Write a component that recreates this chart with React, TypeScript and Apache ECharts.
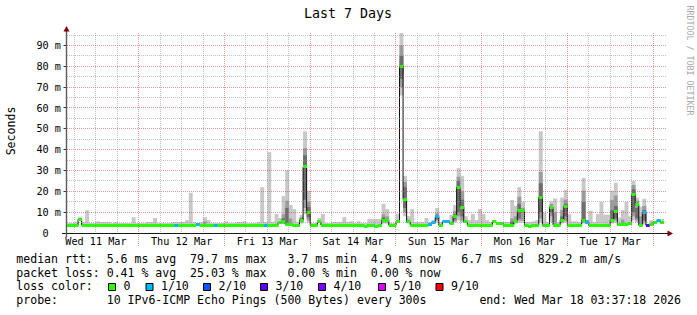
import React, { useEffect, useRef } from 'react';
import * as echarts from 'echarts';

// ---- time frame: hours since Wed 11 Mar 00:00 ----
const START_HOUR = 3 + 37 / 60 + 18 / 3600; // Wed 11 Mar 03:37:18
const END_HOUR = START_HOUR + 168; // Wed 18 Mar 03:37:18
const FIRST_BUCKET_HOUR = 4; // first hourly bucket 04:00-05:00
const Y_MAX = 96;

const dayLabels = ['Wed 11 Mar', 'Thu 12 Mar', 'Fri 13 Mar', 'Sat 14 Mar', 'Sun 15 Mar', 'Mon 16 Mar', 'Tue 17 Mar'];
const dayLabelHours = [12, 36, 60, 84, 108, 132, 156];
const minorGridHours = [6, 12, 18, 30, 36, 42, 54, 60, 66, 78, 84, 90, 102, 108, 114, 126, 132, 138, 150, 156, 162];
const majorGridHours = [24, 48, 72, 96, 120, 144, 168];
const yTickValues = [0, 10, 20, 30, 40, 50, 60, 70, 80, 90];
const yTickLabels = ['0\u00a0\u00a0', '10\u00a0m', '20\u00a0m', '30\u00a0m', '40\u00a0m', '50\u00a0m', '60\u00a0m', '70\u00a0m', '80\u00a0m', '90\u00a0m'];
const yMajorGrid = [10, 20, 30, 40, 50, 60, 70, 80, 90];
const yMinorGrid = [5, 15, 25, 35, 45, 55, 65, 75, 85, 95];

// ---- median rtt per hourly bucket (ms) ----
const medianWed11 = [3.5, 3.5, 3.7, 6.5, 3.8, 3.8, 3.8, 3.8, 3.8, 3.8, 3.8, 3.8, 3.8, 3.8, 3.8, 3.8, 3.8, 3.8, 3.8, 3.8];
const medianThu12 = [3.8, 3.8, 3.8, 3.8, 3.8, 3.8, 3.8, 3.8, 3.8, 3.8, 3.8, 3.8, 3.8, 3.8, 3.8, 3.8, 4.0, 3.8, 3.8, 3.8, 3.8, 3.8, 3.8, 3.8];
const medianFri13 = [3.8, 3.8, 3.8, 3.8, 3.8, 3.8, 3.8, 3.8, 3.8, 3.8, 3.8, 3.8, 3.8, 3.8, 3.8, 4.9, 5.7, 4.3, 4.3, 3.8, 3.4, 6.2, 31.7, 9.7];
const medianSat14 = [3.6, 3.6, 5.3, 3.8, 3.8, 3.8, 3.8, 3.8, 3.8, 3.8, 3.8, 3.8, 3.8, 3.8, 3.8, 3.2, 3.8, 3.8, 3.0, 3.8, 6.1, 6.1, 3.8, 3.8];
const medianSun15 = [5.3, 80.0, 16.1, 5.3, 3.8, 3.8, 3.8, 3.8, 3.8, 4.2, 5.0, 7.7, 3.8, 5.3, 5.3, 4.5, 8.0, 22.0, 12.4, 5.3, 3.8, 3.8, 3.8, 3.8];
const medianMon16 = [3.8, 3.8, 3.8, 5.3, 4.8, 4.8, 3.8, 3.8, 3.8, 5.3, 10.6, 10.6, 3.8, 3.2, 3.8, 3.8, 17.1, 3.8, 3.8, 12.3, 3.8, 3.8, 6.2, 12.8];
const medianTue17 = [3.5, 3.5, 3.5, 3.5, 6.2, 5.2, 3.8, 3.8, 3.8, 3.8, 3.8, 3.8, 6.2, 10.4, 4.0, 4.0, 4.2, 4.5, 18.3, 13.5, 3.8, 9.8, 3.7, 4.0];
const medianWed18 = [5.2, 5.8, 5.0];

// ---- max rtt (top of smoke) per hourly bucket (ms) ----
const maxWed11 = [4.9, 4.9, 5.3, 7.6, 5.3, 11.0, 4.9, 4.9, 5.6, 5.3, 5.3, 5.3, 4.8, 5.3, 4.8, 4.8, 4.8, 4.8, 7.6, 4.8];
const maxThu12 = [4.8, 4.8, 5.3, 5.3, 7.2, 4.8, 4.8, 4.8, 4.8, 5.3, 5.3, 5.3, 5.3, 6.2, 19.3, 5.3, 4.8, 5.3, 7.6, 6.2, 4.8, 4.8, 4.8, 4.8];
const maxFri13 = [5.6, 4.8, 4.8, 5.3, 5.3, 5.6, 4.8, 4.8, 4.8, 5.3, 22.0, 5.3, 38.8, 5.3, 9.1, 7.2, 17.7, 30.1, 13.4, 11.5, 5.3, 8.6, 48.8, 20.2];
const maxSat14 = [4.8, 4.8, 7.2, 9.1, 4.8, 4.8, 5.3, 5.3, 5.3, 7.6, 5.3, 5.6, 4.8, 5.6, 4.8, 4.8, 6.7, 6.7, 6.7, 6.7, 14.0, 11.5, 4.8, 4.8];
const maxSun15 = [9.1, 96.0, 27.3, 8.1, 11.5, 5.3, 5.3, 5.3, 7.2, 5.3, 6.2, 12.0, 5.3, 6.2, 6.2, 8.8, 13.4, 31.1, 27.3, 8.1, 6.2, 9.1, 6.2, 11.5];
const maxMon16 = [9.1, 6.2, 5.3, 6.2, 5.3, 5.3, 5.3, 5.3, 15.8, 13.0, 22.0, 15.0, 5.3, 5.3, 5.6, 6.2, 48.8, 9.7, 5.3, 15.3, 16.6, 5.3, 17.0, 20.6];
const maxTue17 = [9.0, 5.6, 5.6, 5.3, 26.5, 6.0, 10.7, 5.3, 9.1, 15.0, 8.8, 8.8, 20.3, 24.1, 7.4, 11.0, 15.0, 8.0, 25.0, 17.0, 12.6, 16.4, 4.2, 6.2];
const maxWed18 = [5.8, 6.7, 6.7];

// ---- denser smoke bands: [bucket, low, midLow, darkLow, darkHigh, midHigh] (ms) ----
const smokeBands = [
  [38, 3.8, 3.8, 0, 0, 5.6],
  [60, 4.3, 4.5, 5.0, 7.0, 9.0],
  [61, 3.8, 4.0, 4.5, 12.0, 15.5],
  [62, 3.8, 4.0, 0, 0, 7.0],
  [65, 4.5, 5.0, 5.5, 7.0, 7.5],
  [66, 9.0, 12.0, 16.0, 37.3, 40.7],
  [67, 5.0, 6.0, 7.5, 12.6, 15.0],
  [88, 4.5, 5.0, 5.5, 7.5, 9.0],
  [89, 4.5, 5.0, 0, 0, 8.0],
  [93, 66.0, 70.0, 74.0, 85.0, 90.0],
  [94, 8.0, 10.0, 12.0, 22.0, 24.5],
  [95, 4.5, 5.0, 5.0, 6.0, 6.5],
  [103, 5.0, 6.0, 6.5, 8.5, 9.5],
  [108, 5.0, 5.5, 6.5, 9.0, 10.5],
  [109, 6.0, 8.0, 10.0, 25.0, 27.0],
  [110, 5.0, 6.0, 8.0, 16.0, 20.0],
  [124, 3.8, 4.0, 4.2, 5.5, 7.0],
  [125, 4.5, 5.0, 0, 0, 8.0],
  [126, 5.0, 6.0, 7.0, 14.0, 17.4],
  [127, 5.0, 6.0, 0, 0, 12.0],
  [132, 5.0, 7.0, 10.0, 23.9, 29.3],
  [135, 5.0, 8.0, 10.0, 13.0, 14.0],
  [136, 3.8, 4.0, 0, 0, 10.0],
  [138, 4.5, 5.0, 5.5, 8.0, 11.0],
  [139, 5.0, 6.0, 8.0, 14.0, 16.0],
  [144, 4.5, 5.0, 5.5, 14.8, 20.3],
  [145, 4.5, 4.8, 5.0, 6.0, 6.0],
  [152, 4.5, 5.0, 5.5, 11.0, 15.8],
  [153, 5.0, 6.0, 7.0, 13.0, 18.0],
  [155, 3.8, 4.0, 0, 0, 6.5],
  [158, 6.0, 8.0, 10.0, 21.0, 23.0],
  [159, 5.0, 6.0, 7.0, 12.0, 15.5],
  [160, 3.8, 4.0, 0, 0, 8.0],
  [161, 4.0, 5.0, 6.0, 11.0, 13.0],
];

// ---- buckets with packet loss: [bucket, loss level index] ----
const lossBuckets = [
  [30, 1], [36, 1], [41, 1], [55, 1], [101, 1], [102, 1], [103, 1], [105, 1], [106, 1],
  [145, 1], [161, 1], [162, 3], [165, 1],
];
const lossLabels = ['0', '1/10', '2/10', '3/10', '4/10', '5/10', '9/10'];
const lossColors = ['#26ff00', '#00b8ff', '#0059ff', '#5e00ff', '#7e00ff', '#dd00ff', '#ff0000'];

const legendRtt = 'median rtt:  5.6 ms avg  79.7 ms max   3.7 ms min  4.9 ms now   6.7 ms sd  829.2 m am/s';
const legendLoss = 'packet loss: 0.41 % avg  25.03 % max   0.00 % min  0.00 % now';
const legendColorTitle = 'loss color:';
const legendProbe = 'probe:       10 IPv6-ICMP Echo Pings (500 Bytes) every 300s';
const legendEnd = 'end: Wed Mar 18 03:37:18 2026';
const titleText = 'Last 7 Days';
const unitText = 'Seconds';
const watermarkText = 'RRDTOOL / TOBI OETIKER';

const median = [...medianWed11, ...medianThu12, ...medianFri13, ...medianSat14, ...medianSun15, ...medianMon16, ...medianTue17, ...medianWed18];
const maxRtt = [...maxWed11, ...maxThu12, ...maxFri13, ...maxSat14, ...maxSun15, ...maxMon16, ...maxTue17, ...maxWed18];

// ---- layout / style ----
const MONO = '"DejaVu Sans Mono", monospace';
const LEGEND_FS = 11.55;
const AXIS_FS = 10.2;
const SMOKE_LIGHT = '#c8c8c8';
const SMOKE_MID = '#9b9b9b';
const SMOKE_DARK = '#6e6e6e';
const GRID_MINOR = 'rgba(143,143,143,0.55)';
const GRID_MAJOR = 'rgba(222,80,80,0.6)';
const legendBoxX = [108.5, 146, 203.5, 260.5, 318.5, 378.5, 436];
const legendRows = [258.6, 272.6, 286.4, 300.4];
const LEFT_X = 16.3;

const nb = (s: string) => s.replace(/ /g, '\u00a0');

function txt(text: string, x: number, y: number, fontSize: number, extra: any = {}, align = 'left') {
  return {
    type: 'text',
    x,
    y,
    rotation: extra.rotation || 0,
    z: 20,
    style: {
      text: nb(text),
      fontSize,
      fontFamily: MONO,
      fill: extra.fill || '#000',
      align,
      textAlign: align,
      verticalAlign: 'middle',
      textVerticalAlign: 'middle',
    },
  };
}

export default function App() {
  const ref = useRef<HTMLDivElement>(null);

  useEffect(() => {
    if (!ref.current) return;
    const chart = echarts.init(ref.current, undefined, { renderer: 'svg' });

    const bandMap: Record<number, number[]> = {};
    smokeBands.forEach((b) => { bandMap[b[0]] = b; });
    const lossMap: Record<number, number> = {};
    lossBuckets.forEach(([b, l]) => { lossMap[b] = l; });

    const bucketData = median.map((m, i) => [FIRST_BUCKET_HOUR + i, m, i]);
    const stepData = median.map((m, i) => [FIRST_BUCKET_HOUR + i, m]);
    stepData.push([FIRST_BUCKET_HOUR + median.length, median[median.length - 1]]);

    const vGridData = [
      ...minorGridHours.map((h) => [h, 0, 0]),
      ...majorGridHours.map((h) => [h, 0, 1]),
    ];
    const hGridData = [
      ...yMinorGrid.map((v) => [START_HOUR, v, 0]),
      ...yMajorGrid.map((v) => [START_HOUR, v, 1]),
    ];
    const dayData = dayLabelHours.map((h, k) => [h, 0, k]);

    const graphic: any[] = [];
    graphic.push(txt(titleText, 348, 13.8, 13.3, {}, 'center'));
    graphic.push(txt(unitText, 11, 131, LEGEND_FS, { rotation: Math.PI / 2 }, 'center'));
    graphic.push(txt(watermarkText, 690, 60.5, 8.3, { rotation: -Math.PI / 2, fill: '#a8a8a8' }, 'center'));
    graphic.push(txt(legendRtt, LEFT_X, legendRows[0], LEGEND_FS));
    graphic.push(txt(legendLoss, LEFT_X, legendRows[1], LEGEND_FS));
    graphic.push(txt(legendColorTitle, LEFT_X, legendRows[2], LEGEND_FS));
    graphic.push(txt(legendProbe, LEFT_X, legendRows[3], LEGEND_FS));
    graphic.push(txt(legendEnd, 681, legendRows[3], LEGEND_FS, {}, 'right'));
    lossLabels.forEach((lab, k) => {
      graphic.push({
        type: 'rect', z: 20,
        shape: { x: legendBoxX[k], y: 283.5, width: 7, height: 7 },
        style: { fill: lossColors[k], stroke: '#000', lineWidth: 1 },
      });
      graphic.push(txt(lab, legendBoxX[k] + 15, legendRows[2], LEGEND_FS));
    });
    // axes
    graphic.push({ type: 'line', z: 30, shape: { x1: 62, y1: 233.5, x2: 669, y2: 233.5 }, style: { stroke: '#1a1a1a', lineWidth: 1 } });
    graphic.push({ type: 'line', z: 30, shape: { x1: 66.5, y1: 237, x2: 66.5, y2: 30 }, style: { stroke: '#5a5a5a', lineWidth: 1.4 } });
    graphic.push({ type: 'polygon', z: 31, shape: { points: [[667.5, 230.5], [673, 233.5], [667.5, 236.5]] }, style: { fill: '#7f0000' } });
    graphic.push({ type: 'polygon', z: 31, shape: { points: [[63.5, 31.5], [66.5, 26], [69.5, 31.5]] }, style: { fill: '#7f0000' } });

    const option: any = {
      animation: false,
      backgroundColor: '#ffffff',
      grid: { left: 66, top: 33, width: 600, height: 200, containLabel: false },
      xAxis: { type: 'value', min: START_HOUR, max: END_HOUR, show: false },
      yAxis: {
        type: 'value', min: 0, max: Y_MAX, interval: 10,
        axisLine: { show: false }, axisTick: { show: false }, splitLine: { show: false },
        axisLabel: {
          show: true, margin: 5, color: '#000', fontSize: AXIS_FS, fontFamily: MONO,
          showMaxLabel: false,
          formatter: (v: number) => {
            const k = yTickValues.indexOf(Math.round(v));
            return k >= 0 && Math.abs(v - yTickValues[k]) < 1e-6 ? yTickLabels[k] : '';
          },
        },
      },
      graphic,
      series: [
        {
          type: 'custom', name: 'smoke', z: 1, silent: true,
          dimensions: ['x', 'y', 'i'], encode: { x: 0, y: 1 },
          data: bucketData,
          renderItem: (params: any, api: any) => {
            const i = api.value(2) as number;
            const h = FIRST_BUCKET_HOUR + i;
            const left = api.coord([h, 0])[0];
            const right = api.coord([h + 1, 0])[0];
            const w = right - left + 0.35;
            const b = bandMap[i];
            const low = b ? b[1] : median[i];
            const ch: any[] = [];
            const yb = api.coord([h, low])[1];
            const yt = api.coord([h, maxRtt[i]])[1];
            ch.push({ type: 'rect', shape: { x: left, y: yt, width: w, height: yb - yt }, style: { fill: SMOKE_LIGHT } });
            if (b) {
              const mb = api.coord([h, b[2]])[1];
              const mt = api.coord([h, b[5]])[1];
              ch.push({ type: 'rect', shape: { x: left, y: mt, width: w, height: mb - mt }, style: { fill: SMOKE_MID } });
              if (b[4] > 0) {
                const db = api.coord([h, b[3]])[1];
                const dt = api.coord([h, b[4]])[1];
                ch.push({ type: 'rect', shape: { x: left, y: dt, width: w, height: db - dt }, style: { fill: SMOKE_DARK } });
              }
            }
            return { type: 'group', children: ch };
          },
        },
        {
          type: 'line', name: 'median', z: 2, silent: true,
          data: stepData, step: 'end', symbol: 'none',
          lineStyle: { color: '#111', width: 1 },
        },
        {
          type: 'custom', name: 'loss', z: 3, silent: true,
          dimensions: ['x', 'y', 'i'], encode: { x: 0, y: 1 },
          data: bucketData,
          renderItem: (params: any, api: any) => {
            const i = api.value(2) as number;
            const h = FIRST_BUCKET_HOUR + i;
            const left = api.coord([h, 0])[0];
            const right = api.coord([h + 1, 0])[0];
            const yc = api.coord([h, median[i]])[1];
            const top = Math.round(yc - 1.5);
            const lvl = lossMap[i] || 0;
            return {
              type: 'rect',
              shape: { x: left, y: top, width: right - left + 0.35, height: 3 },
              style: { fill: lossColors[lvl] },
            };
          },
        },
        {
          type: 'custom', name: 'vgrid', z: 5, silent: true, clip: false,
          dimensions: ['x', 'y', 'm'], encode: { x: 0, y: 1 },
          data: vGridData,
          renderItem: (params: any, api: any) => {
            const h = api.value(0) as number;
            const major = api.value(2) === 1;
            const p0 = api.coord([h, 0]);
            const pt = api.coord([h, Y_MAX]);
            const x = Math.floor(p0[0]) + 0.5;
            return {
              type: 'line',
              shape: { x1: x, y1: pt[1], x2: x, y2: major ? p0[1] + 14 : p0[1] },
              style: { stroke: major ? GRID_MAJOR : GRID_MINOR, lineWidth: 1, lineDash: [1, 1] },
            };
          },
        },
        {
          type: 'custom', name: 'hgrid', z: 5, silent: true, clip: false,
          dimensions: ['x', 'y', 'm'], encode: { x: 0, y: 1 },
          data: hGridData,
          renderItem: (params: any, api: any) => {
            const v = api.value(1) as number;
            const major = api.value(2) === 1;
            const p0 = api.coord([START_HOUR, v]);
            const p1 = api.coord([END_HOUR, v]);
            const y = Math.floor(p0[1]) + 0.5;
            const ch: any[] = [
              { type: 'line', shape: { x1: p0[0] + 1, y1: y, x2: p1[0], y2: y }, style: { stroke: major ? GRID_MAJOR : GRID_MINOR, lineWidth: 1, lineDash: [1, 1] } },
            ];
            if (major) {
              ch.push({ type: 'line', shape: { x1: p0[0] - 2.5, y1: y, x2: p0[0], y2: y }, style: { stroke: '#333', lineWidth: 1 } });
            }
            return { type: 'group', children: ch };
          },
        },
        {
          type: 'custom', name: 'days', z: 6, silent: true, clip: false,
          dimensions: ['x', 'y', 'k'], encode: { x: 0, y: 1 },
          data: dayData,
          renderItem: (params: any, api: any) => {
            const h = api.value(0) as number;
            const k = api.value(2) as number;
            const p = api.coord([h, 0]);
            return {
              type: 'text',
              x: p[0],
              y: p[1] + 8.5,
              style: {
                text: dayLabels[k], fontSize: AXIS_FS, fontFamily: MONO, fill: '#000',
                align: 'center', textAlign: 'center', verticalAlign: 'middle', textVerticalAlign: 'middle',
              },
            };
          },
        },
      ],
    };

    chart.setOption(option);
    return () => chart.dispose();
  }, []);

  return <div ref={ref} style={{ position: 'fixed', left: 0, top: 0, width: 697, height: 315 }} />;
}
